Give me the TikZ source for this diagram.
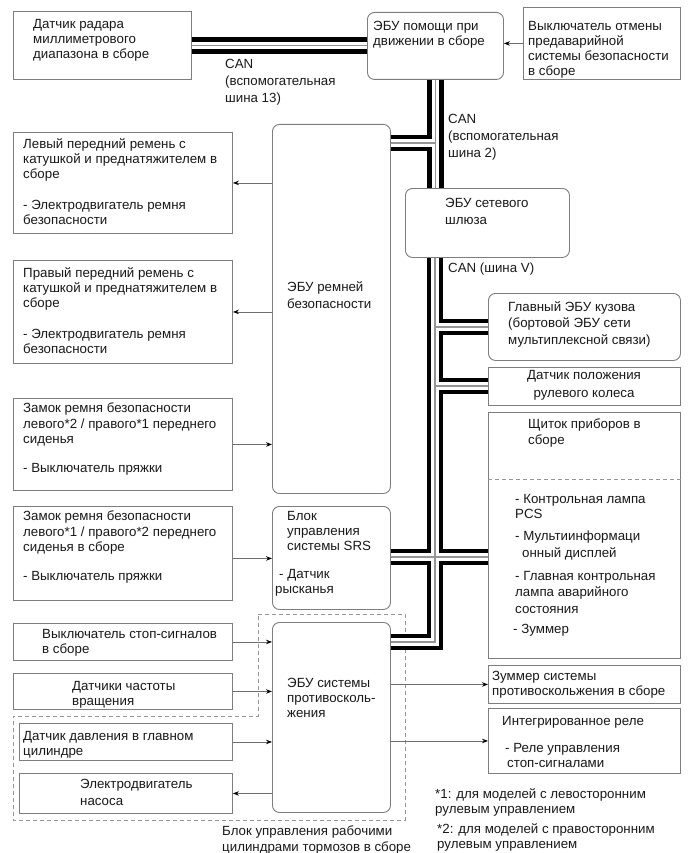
\documentclass[tikz,border=0pt]{standalone}
\usepackage{fontspec}
\setmainfont{Liberation Sans}
\usepackage{tikz}
\usetikzlibrary{arrows.meta}
\definecolor{framegray}{RGB}{125,125,125}
\definecolor{wiregray}{RGB}{110,110,110}
\definecolor{dashgray}{RGB}{150,150,150}
\definecolor{textblack}{RGB}{25,25,25}
\definecolor{pairgray}{RGB}{150,150,150}
\newcommand{\diagfont}{\fontsize{13.3}{15.2}\selectfont}

\begin{document}
\begin{tikzpicture}[x=1pt, y=-1pt,
    box/.style={draw=framegray, fill=white, line width=0.9pt, anchor=north west, inner sep=0pt},
    ecu/.style={box, rounded corners=7pt},
    txt/.style={anchor=north west, align=left, inner sep=0pt, text=textblack, font=\diagfont},
    sig/.style={draw=wiregray, line width=0.8pt, -{Stealth[length=6pt, width=4.5pt, color=black]}},
    grp/.style={draw=dashgray, line width=0.8pt, dash pattern=on 4pt off 3pt}]
  \useasboundingbox (0,0) rectangle (690,853);

  % Top row
  \node[box, minimum width=178pt, minimum height=68pt] (radar) at (13,11) {};
  \node[ecu, minimum width=136pt, minimum height=67pt] (assist) at (367,12) {};
  \node[box, minimum width=157pt, minimum height=72pt] (pcsoff) at (523,7) {};

  % Seat belt side
  \node[ecu, minimum width=118pt, minimum height=369pt] (belt) at (272,124) {};
  \node[box, minimum width=219pt, minimum height=101pt] (lpt) at (13,132) {};
  \node[box, minimum width=219pt, minimum height=103pt] (rpt) at (13,260) {};
  \node[box, minimum width=219pt, minimum height=92pt] (buckleA) at (13,398) {};
  \node[box, minimum width=219pt, minimum height=94pt] (buckleB) at (13,506) {};
  \node[ecu, minimum width=118pt, minimum height=103pt] (srs) at (272,506) {};

  % Gateway and CAN V side
  \node[ecu, minimum width=164pt, minimum height=69pt] (gw) at (405,188) {};
  \node[ecu, minimum width=192pt, minimum height=67pt] (body) at (488,293) {};
  \node[box, minimum width=192pt, minimum height=38pt] (steer) at (488,367) {};
  \node[box, minimum width=192pt, minimum height=246pt] (meter) at (488,412) {};
  \draw[grp] ([yshift=-67pt]meter.north west) -- ([yshift=-67pt]meter.north east);

  % Skid control
  \node[ecu, minimum width=118pt, minimum height=190pt] (abs) at (272,622) {};
  \node[box, minimum width=219pt, minimum height=37pt] (stopsw) at (13,623) {};
  \node[box, minimum width=219pt, minimum height=36pt] (speed) at (13,673) {};
  \node[box, minimum width=213pt, minimum height=37pt] (mcyl) at (19,723) {};
  \node[box, minimum width=213pt, minimum height=40pt] (pump) at (19,773) {};
  \node[box, minimum width=192pt, minimum height=38pt] (buzzer) at (488,665) {};
  \node[box, minimum width=192pt, minimum height=65pt] (relay) at (488,708) {};

  % Brake actuator outline
  \draw[grp] (258,614) -- (405,614) -- (405,820) -- (13,820) -- (13,716) -- (258,716) -- cycle;

  % Signal lines
  \draw[sig] (pcsoff.west) -- (pcsoff.west -| assist.east);
  \draw[sig] (belt.west |- lpt.east) -- (lpt.east);
  \draw[sig] (belt.west |- rpt.east) -- (rpt.east);
  \draw[sig] (buckleA.east) -- (buckleA.east -| belt.west);
  \draw[sig] ([yshift=-5pt]buckleB.east) -- ([yshift=-5pt]buckleB.east -| srs.west);
  \draw[sig] (stopsw.east) -- (stopsw.east -| abs.west);
  \draw[sig] (speed.east) -- (speed.east -| abs.west);
  \draw[sig] (mcyl.east) -- (mcyl.east -| abs.west);
  \draw[sig] (abs.west |- pump.east) -- (pump.east);
  \draw[sig] (abs.east |- buzzer.west) -- (buzzer.west);
  \draw[sig] (abs.east |- relay.west) -- (relay.west);

  % CAN buses (black, white, gray layers)
  \coordinate (j2) at (435,143);
  \coordinate (j3) at (435,327);
  \coordinate (j4) at (435,386);
  \coordinate (j5) at (435,557);
  \coordinate (j6) at (435,642);
  \foreach \w/\c in {16.5/black, 7.5/white, 1.2/pairgray} {
    \draw[line width=\w pt, \c] (radar.east) -- (radar.east -| assist.west)
      (assist.south) -- (assist.south |- gw.north)
      (belt.east |- j2) -- (j2)
      (gw.south -| j2) -- (j6) -- (j6 -| abs.east)
      (j3) -- (j3 -| body.west)
      (j4) -- (j4 -| steer.west)
      (j5 -| srs.east) -- (j5 -| meter.west);
  }

  % Texts
  \node[txt] (radar-t) at (33,19) {Датчик радара\\миллиметрового\\диапазона в сборе};
  \node[txt] (assist-t) at (373,21) {ЭБУ помощи при\\движении в сборе};
  \node[txt] (pcsoff-t) at (528,21) {Выключатель отмены\\предаварийной\\системы безопасности\\в сборе};
  \node[txt, font=\fontsize{13.3}{17.2}\selectfont] (can13) at (225,59) {CAN\\(вспомогательная\\шина 13)};
  \node[txt, font=\fontsize{13.3}{17.2}\selectfont] (can2) at (448,114) {CAN\\(вспомогательная\\шина 2)};
  \node[txt] (canv) at (448,263) {CAN (шина V)};

  \node[txt, font=\fontsize{13.3}{17}\selectfont] (belt-t) at (287,281) {ЭБУ ремней\\безопасности};
  \node[txt] (lpt-t) at (23,138) {Левый передний ремень с\\катушкой и преднатяжителем в\\сборе\\[16pt]- Электродвигатель ремня\\безопасности};
  \node[txt] (rpt-t) at (23,267) {Правый передний ремень с\\катушкой и преднатяжителем в\\сборе\\[16pt]- Электродвигатель ремня\\безопасности};
  \node[txt] (buckleA-t) at (23,403) {Замок ремня безопасности\\левого*2 / правого*1 переднего\\сиденья\\[14pt]- Выключатель пряжки};
  \node[txt] (buckleB-t) at (23,511) {Замок ремня безопасности\\левого*1 / правого*2 переднего\\сиденья в сборе\\[14pt]- Выключатель пряжки};
  \node[txt] (srs-t) at (287,511) {Блок\\управления\\системы SRS};
  \node[txt] (yaw-t) at (275,569) {\hspace*{4pt}- Датчик\\рысканья};

  \node[txt, font=\fontsize{13.3}{17}\selectfont] (gw-t) at (445,198) {ЭБУ сетевого\\шлюза};
  \node[txt, font=\fontsize{13.3}{16.5}\selectfont] (body-t) at (508,301) {Главный ЭБУ кузова\\(бортовой ЭБУ сети\\мультиплексной связи)};
  \node[txt, anchor=north, align=center, font=\fontsize{13.3}{18}\selectfont] (steer-t) at (584,370) {Датчик положения\\рулевого колеса};
  \node[txt] (meter-t) at (528,419) {Щиток приборов в\\сборе};
  \node[txt] (lamp-t) at (515,494) {- Контрольная лампа\\PCS};
  \node[txt, font=\fontsize{13.3}{17}\selectfont] (mid-t) at (515,531) {- Мультиинформаци\\\hspace*{7pt}онный дисплей};
  \node[txt, font=\fontsize{13.3}{16.5}\selectfont] (warn-t) at (515,571) {- Главная контрольная\\лампа аварийного\\состояния};
  \node[txt] (bz-t) at (513,624) {- Зуммер};

  \node[txt] (abs-t) at (287,678) {ЭБУ системы\\противосколь-\\жения};
  \node[txt] (stopsw-t) at (42,629) {Выключатель стоп-сигналов\\в сборе};
  \node[txt] (speed-t) at (72,681) {Датчики частоты\\вращения};
  \node[txt] (mcyl-t) at (23,731) {Датчик давления в главном\\цилиндре};
  \node[txt, font=\fontsize{13.3}{17}\selectfont] (pump-t) at (80,779) {Электродвигатель\\насоса};
  \node[txt] (buzzer-t) at (492,671) {Зуммер системы\\противоскольжения в сборе};
  \node[txt] (relay-t) at (502,716) {Интегрированное реле};
  \node[txt] (stoprel-t) at (505,743) {- Реле управления\\\hspace*{2pt}стоп-сигналами};
  \node[txt] (grp-t) at (222,826) {Блок управления рабочими\\цилиндрами тормозов в сборе};

  % Footnotes
  \node[txt] (note1) at (435,788) {*1: для моделей с левосторонним\\рулевым управлением};
  \node[txt] (note2) at (437,823) {*2: для моделей с правосторонним\\рулевым управлением};
\end{tikzpicture}
\end{document}
